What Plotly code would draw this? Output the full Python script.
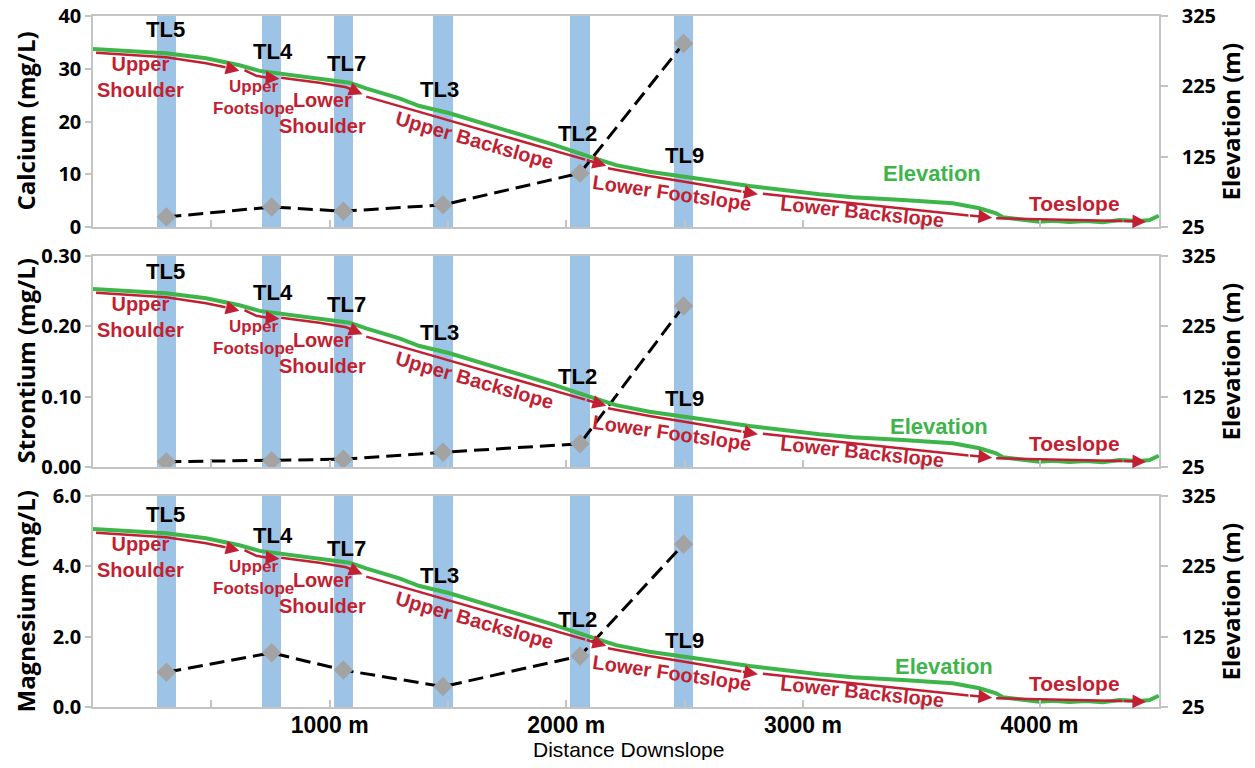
import plotly.graph_objects as go
from plotly.subplots import make_subplots

# ---------------- data ----------------
site_names = ["TL5", "TL4", "TL7", "TL3", "TL2", "TL9"]
site_distance_m = [310, 755, 1058, 1479, 2058, 2496]
site_label_x_m = [308, 760, 1070, 1464, 2049, 2500]
# label heights (elevation axis units) per panel
site_label_elev_calcium = [306, 274, 258, 221, 158, 127]
site_label_elev_strontium = [303, 273, 256, 216, 153, 123]
site_label_elev_magnesium = [298, 269, 251, 212, 150, 119]

calcium_mg_l = [1.9, 3.8, 3.0, 4.2, 10.2, 34.8]
strontium_mg_l = [0.0075, 0.009, 0.011, 0.021, 0.033, 0.229]
magnesium_mg_l = [0.99, 1.54, 1.05, 0.58, 1.45, 4.63]

profile_distance_m = [0, 309, 478, 619, 704, 788, 957, 1084, 1154, 1295, 1380,
                      1507, 1718, 1929, 2098, 2211, 2352, 2563, 2775, 3070, 3211,
                      3422, 3634, 3746, 3817, 3845, 3915, 4000, 4056, 4127, 4197,
                      4267, 4338, 4423, 4465, 4504]
profile_elevation_m = [278, 272, 265, 255, 247, 243.5, 236.4, 230.2, 222.2, 208, 197,
                       186.7, 165.3, 144, 125, 113, 103.6, 92.8, 83.3, 71.5, 67.2,
                       63.4, 58.7, 51.6, 44.5, 38.8, 36.4, 32.5, 34, 32.1, 33.5,
                       31.7, 35, 33.5, 35, 41]

landform_names = ["Upper Shoulder", "Upper Footslope", "Lower Shoulder", "Upper Backslope",
                  "Lower Footslope", "Lower Backslope", "Toeslope"]
landform_arrow_x = [
    [13, 309, 478, 560, 619],
    [640, 665, 690, 740, 788],
    [795, 957, 1070, 1105, 1139],
    [1155, 2080, 2169],
    [2176, 2352, 2563, 2740, 2810],
    [2831, 3700, 3800],
    [3817, 4350, 4451],
]
landform_arrow_elev = [
    [272.8, 266.3, 257.7, 252, 247.2],
    [248.2, 243.5, 240, 237, 235.9],
    [237.3, 230.2, 223.6, 218.5, 213.7],
    [210.3, 120.8, 112.2],
    [108.4, 97.5, 85.7, 75.5, 71.5],
    [72.4, 41.5, 38.2],
    [37.4, 33.6, 32.5],
]
landform_label_text = ["Upper<br>Shoulder", "Upper<br>Footslope", "Lower<br>Shoulder",
                       "Upper Backslope", "Lower Footslope", "Lower Backslope", "Toeslope"]
landform_label_x = [201, 678, 971, 1612, 2447, 3252, 4148]
landform_label_elev = [238.3, 209.1, 187.8, 148.7, 73, 46.3, 59.1]
landform_label_angle = [0, 0, 0, 16, 8, 6, 0]
landform_label_size = [20, 17, 20, 20, 20, 20, 21]

elev_label_x = [3544, 3577, 3598]
elev_label_elev = [100.4, 82.3, 82.3]

panel_titles = ["Calcium (mg/L)", "Strontium (mg/L)", "Magnesium (mg/L)"]
panel_values = [calcium_mg_l, strontium_mg_l, magnesium_mg_l]
panel_label_elev = [site_label_elev_calcium, site_label_elev_strontium, site_label_elev_magnesium]
panel_axis_max = [40, 0.30, 6.0]
panel_ticks = [[0, 10, 20, 30, 40], [0, 0.10, 0.20, 0.30], [0, 2, 4, 6]]
panel_tickformat = ["d", ".2f", ".1f"]

elev_ticks = [25, 125, 225, 325]
x_tickvals = [500, 1000, 1500, 2000, 2500, 3000, 3500, 4000]
x_ticktext = ["", "1000 m", "", "2000 m", "", "3000 m", "", "4000 m"]

# ---------------- style ----------------
BLUE = "#9DC3E6"
GREEN = "#3DB54A"
RED = "#C21F32"
GRAY = "#C4C4C4"
DIAMOND = "#A3A3A3"
NARROW = "Liberation Sans Narrow, Arial Narrow, Liberation Sans, Arial, sans-serif"
TICKFONT = "Open Sans, sans-serif"

# the page body has an 8px margin, so the figure is 16px smaller than the window
PAGE_OFF = 8
W, H = 1255 - 2 * PAGE_OFF, 768 - 2 * PAGE_OFF
L, R, T, B = 93 - PAGE_OFF, 96 - PAGE_OFF, 16 - PAGE_OFF, 61 - PAGE_OFF
plot_w = W - L - R
plot_h = H - T - B


def paper_x(px):
    return (px - PAGE_OFF - L) / plot_w


def paper_y(py):
    return (H - B - (py - PAGE_OFF)) / plot_h


fig = make_subplots(rows=3, cols=1, vertical_spacing=29 / plot_h,
                    specs=[[{"secondary_y": True}]] * 3)

annotations = []
for i in range(3):
    r = i + 1
    xref = "x" if r == 1 else f"x{r}"
    yprim = "y" if r == 1 else f"y{2 * r - 1}"
    ysec = f"y{2 * r}"

    fig.add_trace(go.Bar(x=site_distance_m, y=[panel_axis_max[i]] * len(site_distance_m),
                         width=82, marker=dict(color=BLUE, line=dict(width=0)),
                         showlegend=False, hoverinfo="skip"),
                  row=r, col=1, secondary_y=False)
    fig.add_trace(go.Scatter(x=site_distance_m, y=panel_values[i], mode="lines+markers",
                             line=dict(color="black", width=3, dash="15px,7px"),
                             marker=dict(symbol="diamond", size=15, color=DIAMOND),
                             showlegend=False),
                  row=r, col=1, secondary_y=False)
    fig.add_trace(go.Scatter(x=profile_distance_m, y=profile_elevation_m, mode="lines",
                             line=dict(color=GREEN, width=4), showlegend=False),
                  row=r, col=1, secondary_y=True)
    for ax_pts, ay_pts in zip(landform_arrow_x, landform_arrow_elev):
        fig.add_trace(go.Scatter(x=ax_pts[:-1], y=ay_pts[:-1], mode="lines",
                                 line=dict(color=RED, width=2.5), showlegend=False),
                      row=r, col=1, secondary_y=True)
        annotations.append(dict(x=ax_pts[-1], y=ay_pts[-1], ax=ax_pts[-2], ay=ay_pts[-2],
                                xref=xref, yref=ysec, axref=xref, ayref=ysec,
                                text="", showarrow=True, arrowhead=2, arrowsize=1.1,
                                arrowwidth=2.5, arrowcolor=RED, standoff=0, startstandoff=0))
    # site labels
    for name, lx, ly in zip(site_names, site_label_x_m, panel_label_elev[i]):
        annotations.append(dict(x=lx, y=ly, xref=xref, yref=ysec, text=name, showarrow=False,
                                font=dict(family=NARROW, size=22, color="black", weight="bold")))
    # landform labels
    for txt, lx, ly, ang, sz in zip(landform_label_text, landform_label_x, landform_label_elev,
                                    landform_label_angle, landform_label_size):
        annotations.append(dict(x=lx, y=ly, xref=xref, yref=ysec, text=txt, showarrow=False,
                                textangle=ang, align="center",
                                font=dict(family=NARROW, size=sz, color=RED, weight="bold")))
    annotations.append(dict(x=elev_label_x[i], y=elev_label_elev[i], xref=xref, yref=ysec,
                            text="Elevation", showarrow=False,
                            font=dict(family=NARROW, size=22, color=GREEN, weight="bold")))
    # axis titles
    annotations.append(dict(x=paper_x(25), y=0.5, xref="paper", yref=f"{yprim} domain",
                            xanchor="center", yanchor="middle",
                            text=panel_titles[i], textangle=-90, showarrow=False,
                            font=dict(family=TICKFONT, size=24, color="black", weight="bold")))
    annotations.append(dict(x=paper_x(1230), y=0.5, xref="paper", yref=f"{yprim} domain",
                            xanchor="center", yanchor="middle",
                            text="Elevation (m)", textangle=-90, showarrow=False,
                            font=dict(family=TICKFONT, size=24, color="black", weight="bold")))

    fig.update_xaxes(row=r, col=1, domain=[0, 1], range=[0, 4505],
                     tickvals=x_tickvals, ticktext=x_ticktext,
                     ticks="inside", ticklen=7, tickcolor=GRAY, tickwidth=1.5,
                     showline=True, linecolor=GRAY, linewidth=1.5, mirror=True,
                     showgrid=False, zeroline=False, showticklabels=(r == 3),
                     ticklabelstandoff=-3, ticklabeloverflow="allow",
                     tickfont=dict(family=NARROW, size=23, color="black", weight="bold"))
    fig.update_yaxes(row=r, col=1, secondary_y=False, range=[0, panel_axis_max[i]],
                     tickvals=panel_ticks[i], tickformat=panel_tickformat[i],
                     ticks="outside", ticklen=6, tickcolor=GRAY, tickwidth=1.5,
                     showline=True, linecolor=GRAY, linewidth=1.5, showgrid=False, zeroline=False,
                     ticklabeloverflow="allow",
                     tickfont=dict(family=TICKFONT, size=20, color="black", weight="bold"))
    fig.update_yaxes(row=r, col=1, secondary_y=True, range=[25, 325], tickvals=elev_ticks,
                     ticks="outside", ticklen=7, tickcolor=GRAY, tickwidth=1.5,
                     showline=True, linecolor=GRAY, linewidth=1.5, showgrid=False, zeroline=False,
                     ticklabelstandoff=10, ticklabeloverflow="allow",
                     tickfont=dict(family=TICKFONT, size=20, color="black", weight="bold"))

annotations.append(dict(x=paper_x(628), y=paper_y(750), xref="paper", yref="paper",
                        xanchor="center", yanchor="middle",
                        text="Distance Downslope", showarrow=False,
                        font=dict(family=NARROW, size=21, color="black")))

fig.update_layout(width=W, height=H, margin=dict(l=L, r=R, t=T, b=B, autoexpand=False),
                  paper_bgcolor="white", plot_bgcolor="white", bargap=0,
                  showlegend=False, annotations=annotations)

fig.write_html("out.html")
